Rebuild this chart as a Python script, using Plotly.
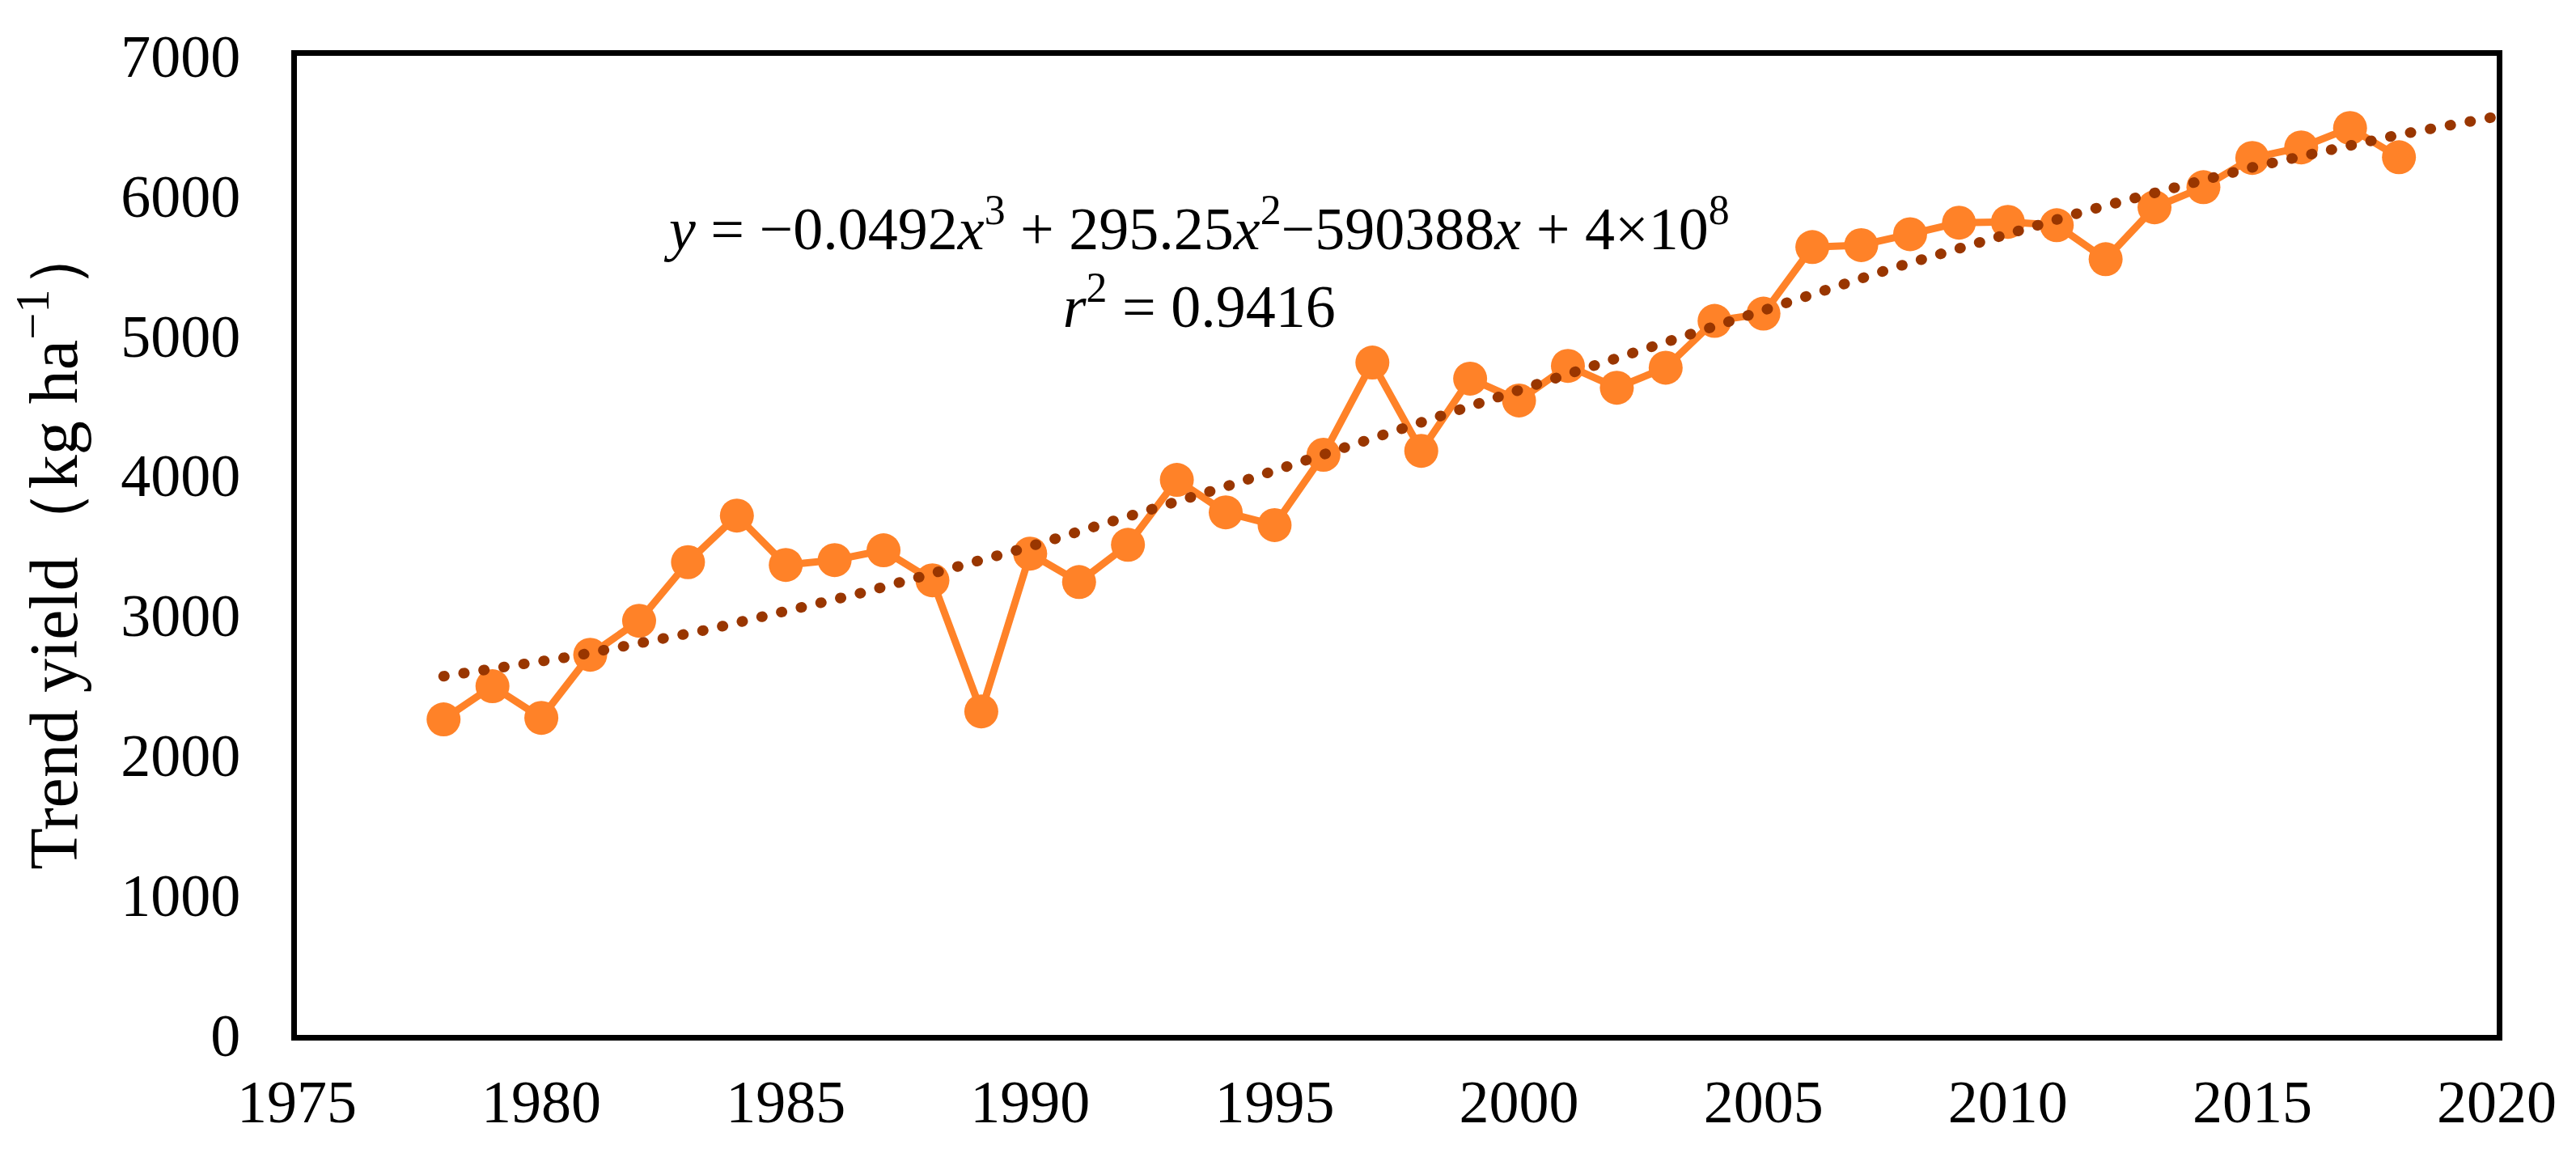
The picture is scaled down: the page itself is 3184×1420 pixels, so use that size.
import numpy as np
import plotly.graph_objects as go

years = list(range(1978, 2019))
yield_vals = [2256, 2493, 2267, 2718, 2961, 3380, 3713, 3360, 3395, 3465,
              3250, 2313, 3441, 3238, 3504, 3968, 3736, 3645, 4148, 4807,
              4176, 4692, 4536, 4783, 4627, 4770, 5105, 5157, 5633, 5647,
              5725, 5807, 5813, 5789, 5546, 5917, 6061, 6270, 6345, 6484,
              6275]
x_ticks = [1975, 1980, 1985, 1990, 1995, 2000, 2005, 2010, 2015, 2020]
y_ticks = [0, 1000, 2000, 3000, 4000, 5000, 6000, 7000]
trend_start, trend_end = 1978, 2020

# cubic trend line (least-squares fit of the series, as a spreadsheet trendline)
xa = np.array(years, dtype=float)
xc = xa.mean()
coef = np.polyfit(xa - xc, np.array(yield_vals, dtype=float), 3)
tx = np.linspace(trend_start, trend_end, 300)
ty = np.polyval(coef, tx - xc)

FONT = "Liberation Serif, Times New Roman, serif"
ORANGE = "#FF8228"
BROWN = "#993600"

fig = go.Figure()
fig.add_trace(go.Scatter(
    x=years, y=yield_vals, mode="lines+markers",
    line=dict(color=ORANGE, width=9),
    marker=dict(color=ORANGE, size=42, line=dict(width=0)),
    showlegend=False, hoverinfo="skip"))
fig.add_trace(go.Scatter(
    x=tx, y=ty, mode="lines",
    line=dict(color=BROWN, width=13, dash="1px,24px"),
    showlegend=False, hoverinfo="skip"))

fig.add_annotation(
    x=1993.4, y=5515, xref="x", yref="y", showarrow=False,
    align="center", xanchor="center", yanchor="middle",
    text=("<i>y</i> = \u22120.0492<i>x</i><sup>3</sup> + 295.25<i>x</i><sup>2</sup>"
          "\u2212590388<i>x</i> + 4\u00d710<sup>8</sup><br>"
          "<i>r</i><sup>2</sup> = 0.9416"),
    font=dict(family=FONT, size=74, color="black"))

fig.update_layout(
    width=3184, height=1420,
    margin=dict(l=359, r=106, t=61, b=149, autoexpand=False),
    paper_bgcolor="white", plot_bgcolor="white",
    font=dict(family=FONT, size=74, color="black"),
)
fig.update_xaxes(
    range=[1975, 2020], tickvals=x_ticks, ticktext=[str(v) for v in x_ticks],
    showgrid=False, zeroline=False, showline=True, linecolor="black",
    linewidth=7, mirror=True, ticks="", ticklabelstandoff=12, automargin=False,
    tickfont=dict(family=FONT, size=74, color="black"))
fig.update_yaxes(
    range=[0, 7000], tickvals=y_ticks, ticktext=[str(v) for v in y_ticks],
    showgrid=False, zeroline=False, showline=True, linecolor="black",
    linewidth=7, mirror=True, ticks="", ticklabelstandoff=48, automargin=False,
    tickfont=dict(family=FONT, size=74, color="black"),
    title=dict(text="Trend yield\uff08kg ha<sup>\u22121</sup>\uff09",
               font=dict(family=FONT, size=84, color="black"), standoff=34))

post = """
var gd = document.getElementsByClassName('plotly-graph-div')[0];
function rc(){
  var tr = gd.querySelectorAll('.scatterlayer .trace');
  if (tr.length > 1) {
    tr[1].querySelectorAll('path.js-line').forEach(function(p){
      p.style.strokeLinecap = 'round';
    });
  }
}
rc();
gd.on('plotly_afterplot', rc);
"""

fig.write_html("out.html", post_script=post)
